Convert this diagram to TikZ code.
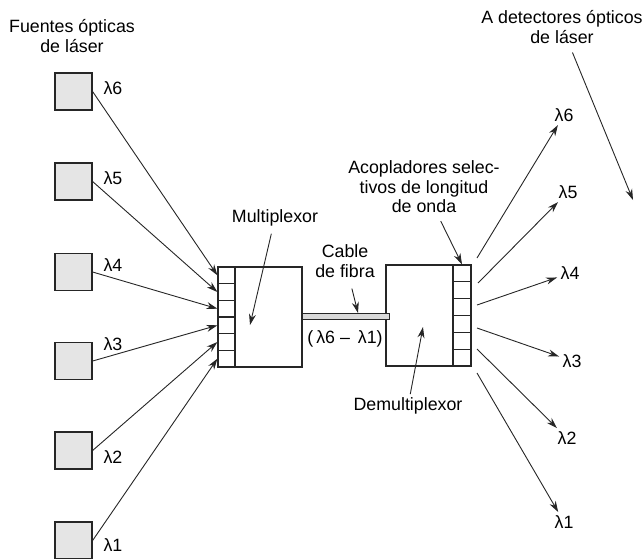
\documentclass[tikz,border=0pt]{standalone}
\usepackage{fontspec}
\setmainfont{Liberation Sans}
\usetikzlibrary{arrows.meta}

\begin{document}
\begin{tikzpicture}[x=1pt,y=-1pt,
    every node/.style={font=\fontsize{17.8}{19.5}\selectfont},
    fuente/.style={draw=black!85,line width=1.2pt,fill=black!10,minimum size=37pt,inner sep=0pt},
    caja/.style={draw=black!85,line width=1.2pt,inner sep=0pt},
    puerto/.style={draw=black!85,line width=1.2pt,inner sep=0pt},
    flecha/.style={draw=black!85,line width=0.9pt,-{Stealth[length=11pt,width=7pt]}}]
        \useasboundingbox (0,0) rectangle (644,558);

        \node[align=center] (fuentes) at (72,36) {Fuentes ópticas\\de láser};
        \node[align=center] (detect) at (562,27) {A detectores ópticos\\de láser};

        % fuentes de laser
        \foreach \i/\y in {6/91.5,5/181.5,4/272,3/361,2/450.5,1/540.5}
            \node[fuente] (f\i) at (73.5,\y) {};

        \node[anchor=west] (lf6) at (100,88) {λ6};
        \node[anchor=west] (lf5) at (100,178) {λ5};
        \node[anchor=west] (lf4) at (100,265) {λ4};
        \node[anchor=west] (lf3) at (100,344) {λ3};
        \node[anchor=west] (lf2) at (100,457) {λ2};
        \node[anchor=west] (lf1) at (100,545) {λ1};

        % multiplexor
        \node[caja,minimum width=84pt,minimum height=100pt] (mux) at (260,317) {};
        \foreach \i in {1,...,6}
            \node[puerto,minimum width=17pt,minimum height=16.67pt] (m\i) at (226.5,{367-(\i-0.5)*100/6}) {};

        % demultiplexor
        \node[caja,minimum width=85pt,minimum height=101pt] (demux) at (428.5,315.5) {};
        \foreach \i in {1,...,6}
            \node[puerto,minimum width=18pt,minimum height=16.83pt] (d\i) at (462,{366-(\i-0.5)*101/6}) {};

        \node[draw=black!85,line width=1pt,fill=black!15,minimum width=87pt,minimum height=6pt,inner sep=0pt] (fibra) at (345.5,316) {};

        \foreach \i in {1,...,6}
            \draw[flecha] (f\i.east) -- (m\i.west);

        % salidas
        \foreach \i/\x/\y in {1/477/373,2/477/349,3/477/328,4/477/305,5/478/283,6/477/258}
            \coordinate (o\i) at (\x,\y);

        \node (r6) at (564,115) {λ6};
        \node (r5) at (568,192) {λ5};
        \node (r4) at (570,273) {λ4};
        \node (r3) at (572,361) {λ3};
        \node (r2) at (567,438) {λ2};
        \node (r1) at (564,522) {λ1};

        \foreach \i in {1,...,6}
            \draw[flecha] (o\i) -- (r\i);

        \node (mxl) at (275,218) {Multiplexor};
        \coordinate (mxp) at (250,325);
        \draw[flecha,shorten <=4pt] (mxl) -- (mxp);

        \node[align=center] (cable) at (345,261) {Cable\\de fibra};
        \coordinate (cbp) at (358,313);
        \draw[flecha,shorten <=8pt] (cable) -- (cbp);

        \node (rango) at (345,339) {(\,λ6 – \,λ1)};

        \node[align=center] (acop) at (424,187) {Acopladores selec-\\tivos de longitud\\de onda};
        \draw[flecha,shorten <=5pt] (acop) -- (d6.north);

        \node (dml) at (408,406) {Demultiplexor};
        \coordinate (dmp) at (423,327);
        \draw[flecha] (dml) -- (dmp);

        \coordinate (detp) at (633,200);
        \draw[flecha,shorten <=6pt] (detect) -- (detp);

    \end{tikzpicture}
\end{document}
